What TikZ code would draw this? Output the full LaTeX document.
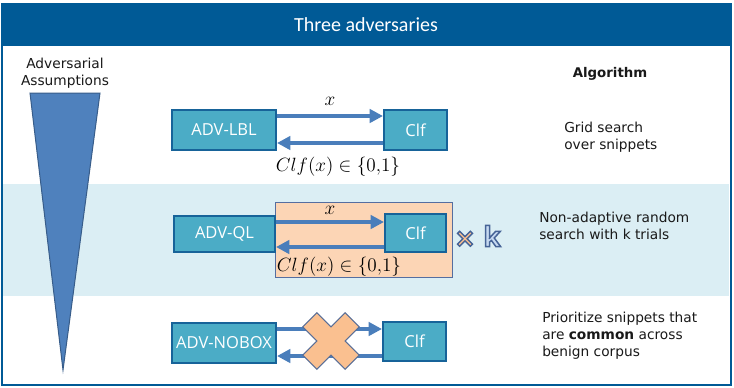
\documentclass[tikz,border=0pt]{standalone}
\usepackage{fontspec}
\setmainfont{DejaVu Sans}
\newfontfamily\titlefont{Carlito}
\newfontfamily\boxfont{Open Sans}
\usetikzlibrary{arrows.meta,calc}
\definecolor{titlebg}{RGB}{0,90,150}
\definecolor{band}{RGB}{219,238,244}
\definecolor{boxfill}{RGB}{75,172,198}
\definecolor{boxline}{RGB}{23,99,153}
\definecolor{arrowc}{RGB}{74,126,187}
\definecolor{trifill}{RGB}{79,129,189}
\definecolor{triline}{RGB}{56,93,138}
\definecolor{peach}{RGB}{252,213,181}
\definecolor{peachline}{RGB}{85,110,160}
\definecolor{crossfill}{RGB}{250,192,144}
\definecolor{crossline}{RGB}{90,110,150}
\definecolor{kfill}{RGB}{198,217,241}
\definecolor{txt}{RGB}{25,25,25}
\newcommand\outlinetext[1]{\special{pdf:literal direct 2 Tr 1.1 w 0.27 0.39 0.59 RG}#1\special{pdf:literal direct 0 Tr}}
\tikzset{
  advbox/.style={draw=boxline, fill=boxfill, line width=1.5pt, text=white,
    font=\boxfont\fontsize{12.4}{14}\selectfont, inner sep=0pt},
  flow/.style={draw=arrowc, line width=3pt, -{Triangle[length=10pt,width=10pt]}},
  mathlbl/.style={font=\fontsize{14.2}{16}\selectfont, inner sep=0pt},
  side/.style={font=\fontsize{10.3}{12.75}\selectfont, text=txt, align=left, inner sep=0pt},
}
\begin{document}
\begin{tikzpicture}[x=0.75pt,y=-0.75pt]
\useasboundingbox (0,0) rectangle (734,387);
\fill[white] (0,0) rectangle (734,387);
\fill[band] (3,184) rectangle (729,296);
\fill[titlebg] (1,3) rectangle (732,46);
\draw[titlebg, line width=1.5pt] (2,4) rectangle (730.5,384.5);
\node[font=\titlefont\fontsize{15}{18}\selectfont, text=white] (title) at (366,25) {Three adversaries};

% triangle
\filldraw[fill=trifill, draw=triline, line width=0.75pt] (30,93) -- (100,93) -- (63,370) -- cycle;
\node[side, align=center] (assume) at (65,73) {Adversarial\\Assumptions};

% right column
\node[side, font=\fontsize{10}{12}\selectfont\bfseries] (algo) at (610,74) {Algorithm};
\node[side, anchor=west] (alg1) at (564,137.5) {Grid search\\over snippets};
\node[side, anchor=west] (alg2) at (539,225.5) {Non-adaptive random\\search with k trials};
\node[side, anchor=west] (alg3) at (542,336) {Prioritize snippets that\\are \textbf{common} across\\benign corpus};

% row 1
\node[advbox, minimum width=78pt, minimum height=30pt] (lbl) at (224,130) {ADV-LBL};
\node[advbox, minimum width=47.25pt, minimum height=30pt] (clf1) at (415.5,130) {Clf};
\draw[flow] ($(lbl.east)+(0,-14)$) -- ($(clf1.west)+(0,-14)$);
\draw[flow] ($(clf1.west)+(0,13)$) -- ($(lbl.east)+(0,13)$);
\node[mathlbl] (x1) at (330,101) {$x$};
\node[mathlbl] (r1) at (338,167) {$Clf(x)\in\{0{,}1\}$};

% row 2
\node[draw=peachline, fill=peach, line width=0.75pt, minimum width=132.75pt, minimum height=56.25pt, inner sep=0pt] (peachbox) at (363.5,239.5) {};
\node[advbox, minimum width=75.75pt, minimum height=27pt] (ql) at (224.5,234) {ADV-QL};
\node[advbox, minimum width=45.75pt, minimum height=28.5pt] (clf2) at (415.5,233) {Clf};
\draw[flow] ($(ql.east)+(0,-12)$) -- ($(clf2.west)+(0,-11)$);
\draw[flow] ($(clf2.west)+(0,14)$) -- ($(ql.east)+(0,13)$);
\node[mathlbl] (x2) at (330,210) {$x$};
\node[mathlbl] (r2) at (339,267) {$Clf(x)\in\{0{,}1\}$};
% x k
\node[font=\fontsize{19}{21}\selectfont\bfseries, text=crossfill, inner sep=0pt] (times) at (465,239) {\outlinetext{×}};
\node[font=\boxfont\fontsize{21}{23}\selectfont\bfseries, text=kfill, inner sep=0pt] (kk) at (492,236) {\outlinetext{k}};

% row 3
\node[advbox, minimum width=78pt, minimum height=30pt] (nobox) at (224,343) {ADV-NOBOX};
\node[advbox, minimum width=47.25pt, minimum height=29.25pt] (clf3) at (414.5,341.5) {Clf};
\draw[flow] ($(nobox.east)+(0,-14)$) -- ($(clf3.west)+(0,-12.5)$);
\draw[flow] ($(clf3.west)+(0,14.5)$) -- ($(nobox.east)+(0,13)$);
\begin{scope}[shift={(331,341)}, rotate=45]
\filldraw[fill=crossfill, draw=crossline, line width=0.75pt]
  (30,10) -- (10,10) -- (10,30) -- (-10,30) -- (-10,10) -- (-30,10) -- (-30,-10)
  -- (-10,-10) -- (-10,-30) -- (10,-30) -- (10,-10) -- (30,-10) -- cycle;
\end{scope}
\end{tikzpicture}
\end{document}
